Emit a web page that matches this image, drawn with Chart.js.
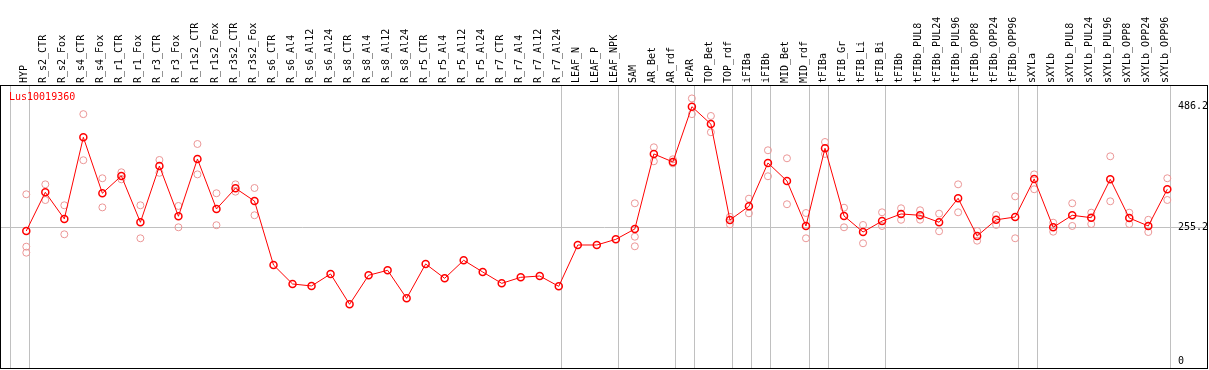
<!DOCTYPE html>
<html>
<head>
<meta charset="utf-8">
<script src="https://cdn.jsdelivr.net/npm/chart.js@4/dist/chart.umd.min.js"></script>
<style>
  body { margin: 0; background: #fff; }
  canvas { display: block; }
</style>
</head>
<body>
<canvas id="expr-chart" width="1209" height="370"></canvas>
<script>
// sample names along the top
const categories = ['HYP', 'R_s2_CTR', 'R_s2_Fox', 'R_s4_CTR', 'R_s4_Fox', 'R_r1_CTR', 'R_r1_Fox',
    'R_r3_CTR', 'R_r3_Fox', 'R_r1s2_CTR', 'R_r1s2_Fox', 'R_r3s2_CTR', 'R_r3s2_Fox',
    'R_s6_CTR', 'R_s6_Al4', 'R_s6_Al12', 'R_s6_Al24', 'R_s8_CTR', 'R_s8_Al4', 'R_s8_Al12', 'R_s8_Al24',
    'R_r5_CTR', 'R_r5_Al4', 'R_r5_Al12', 'R_r5_Al24', 'R_r7_CTR', 'R_r7_Al4', 'R_r7_Al12', 'R_r7_Al24',
    'LEAF_N', 'LEAF_P', 'LEAF_NPK', 'SAM', 'AR_Bet', 'AR_rdf', 'cPAR', 'TOP_Bet', 'TOP_rdf',
    'iFIBa', 'iFIBb', 'MID_Bet', 'MID_rdf', 'tFIBa', 'tFIB_Gr', 'tFIB_Li', 'tFIB_Bi', 'tFIBb',
    'tFIBb_PUL8', 'tFIBb_PUL24', 'tFIBb_PUL96', 'tFIBb_OPP8', 'tFIBb_OPP24', 'tFIBb_OPP96',
    'sXYLa', 'sXYLb', 'sXYLb_PUL8', 'sXYLb_PUL24', 'sXYLb_PUL96', 'sXYLb_OPP8', 'sXYLb_OPP24', 'sXYLb_OPP96'];

// mean expression per sample
const meanValues = [249, 322.8, 272, 427.8, 321, 354, 265.5, 373, 277, 386.4, 291, 330.5, 306,
    184, 147.8, 144, 166.9, 109, 164.4, 173.9, 120.4, 186, 158.6, 193, 170.7, 149, 160.5, 163, 143.3,
    222.2, 222.2, 233, 252.8, 396, 380.7, 486.2, 453, 270, 296, 378.8, 344.4, 258.5, 406.8, 277.6,
    247, 267.8, 281.4, 278.9, 265.6, 311.4, 239.4, 270.3, 275.6, 348.2, 256, 278.9, 274.3, 347.6,
    273.7, 258.5, 328.6];

// replicate values (null = not shown)
const repHigh = [319, 338, 298, 472, 349.6, 361, 298, 384.5, 296.7, 415, 321, 338, 331,
    null, null, null, null, null, null, null, null, null, null, null, null, null, null, null, null,
    null, null, null, 301.8, 408.7, 385.8, 502, 468.5, 276, 310.6, 403, 387.7, 283.3, 418.8, 293.4,
    260.4, 284.6, 292.3, 288.5, 282, 338, 249, 279.5, 315, 357, 264.8, 301.8, 283.9, 391.5,
    283.9, 270.3, 349.6];
const repLow = [219, 308, 242.6, 384, 294, 347.6, 235, 360, 256, 357, 260, 324, 279,
    null, null, null, null, null, null, null, null, null, null, null, null, null, null, null, null,
    null, null, null, 238, 382, 378, 472, 437.4, 261.7, 282.7, 353.4, 300, 235, 396, 256,
    225.5, 258.5, 270.3, 270.5, 248.4, 284.6, 230.4, 260.4, 235, 328.6, 247.6, 258.5, 262.3, 305.6,
    262.3, 247, 308.1];
const repThird = [207.5, null, null, null, null, null, null, null, null, null, null, null, null,
    null, null, null, null, null, null, null, null, null, null, null, null, null, null, null, null,
    null, null, null, 219.7, null, null, null, null, null, null, null, null, null, null, null,
    null, null, null, null, null, null, null, null, null, null, null, null, null, null,
    null, null, null];

// group separators: index of the sample just before each vertical line
const groupBreaks = [-1, 0, 28, 31, 34, 35, 37, 38, 39, 41, 42, 45, 52, 53, 60];
const yTicks = [0, 255.2, 486.2];
const geneName = 'Lus10019360';

const monoFont = { family: 'DejaVu Sans Mono', size: 10 };
const repColor = '#eb9696';

function toPoints(values) {
    return values.map(function (v, i) { return { x: i, y: v }; });
}

// outer frame + gene name
const framePlugin = {
    id: 'frame',
    afterDraw: function (chart) {
        const ca = chart.chartArea;
        const ctx = chart.ctx;
        ctx.save();
        ctx.strokeStyle = '#000';
        ctx.lineWidth = 1;
        ctx.strokeRect(ca.left - 0.5, ca.top + 0.5, ca.right - ca.left, ca.bottom - ca.top - 1);
        ctx.fillStyle = '#ff0000';
        ctx.font = '10px "DejaVu Sans Mono"';
        ctx.textBaseline = 'middle';
        ctx.textAlign = 'left';
        ctx.fillText(geneName, ca.left + 8, ca.top + 12);
        ctx.restore();
    }
};

const xMin = -1.33;
const xMax = 62.14;
// rotated labels are drawn left of their tick, nudge them back over the points
const labelShift = 0.55;

function noSidePadding(scale) {
    scale.paddingLeft = 0;
    scale.paddingRight = 0;
}

function repDataset(label, values) {
    return {
        label: label,
        data: toPoints(values),
        showLine: false,
        pointRadius: 3.5,
        pointBorderWidth: 1,
        pointBorderColor: repColor,
        pointBackgroundColor: 'rgba(0,0,0,0)',
        order: 1
    };
}

const ctx = document.getElementById('expr-chart');
new Chart(ctx, {
    type: 'scatter',
    data: {
        datasets: [
            {
                label: geneName,
                data: toPoints(meanValues),
                showLine: true,
                borderColor: '#ff0000',
                borderWidth: 1,
                pointRadius: 3.5,
                pointBorderWidth: 1.5,
                pointBorderColor: '#ff0000',
                pointBackgroundColor: 'rgba(0,0,0,0)',
                order: 0
            },
            repDataset('rep1', repHigh),
            repDataset('rep2', repLow),
            repDataset('rep3', repThird)
        ]
    },
    options: {
        responsive: false,
        animation: false,
        devicePixelRatio: 1,
        layout: { autoPadding: false, padding: { left: 1, right: 1, top: 0, bottom: 1 } },
        plugins: {
            legend: { display: false },
            tooltip: { enabled: false }
        },
        scales: {
            x: {
                type: 'linear',
                position: 'top',
                min: xMin,
                max: xMax,
                afterBuildTicks: function (scale) {
                    scale.ticks = categories.map(function (c, i) { return { value: i + labelShift }; });
                },
                afterFit: function (scale) {
                    scale.height = 85;
                    noSidePadding(scale);
                },
                grid: { display: false, drawTicks: false },
                border: { display: false },
                ticks: {
                    autoSkip: false,
                    minRotation: 90,
                    maxRotation: 90,
                    padding: 2,
                    color: '#000',
                    font: monoFont,
                    callback: function (value, index) { return categories[index]; }
                }
            },
            x2: {
                type: 'linear',
                position: 'bottom',
                min: xMin,
                max: xMax,
                afterBuildTicks: function (scale) {
                    scale.ticks = groupBreaks.map(function (b) { return { value: b + 0.16 }; });
                },
                afterFit: function (scale) {
                    scale.height = 0;
                    noSidePadding(scale);
                },
                ticks: { display: false },
                grid: { color: '#c0c0c0', lineWidth: 1, drawTicks: false },
                border: { display: false }
            },
            y: {
                position: 'right',
                min: -14.5,
                max: 527.6,
                afterBuildTicks: function (scale) {
                    scale.ticks = yTicks.map(function (v) { return { value: v }; });
                },
                afterFit: function (scale) {
                    scale.width = 0;
                    scale.paddingTop = 0;
                    scale.paddingBottom = 0;
                },
                grid: {
                    drawTicks: false,
                    color: function (c) {
                        return c.tick && c.tick.value === 255.2 ? '#c0c0c0' : 'rgba(0,0,0,0)';
                    }
                },
                border: { display: false },
                ticks: {
                    mirror: true,
                    crossAlign: 'far',
                    padding: 0,
                    color: '#000',
                    font: monoFont,
                    callback: function (v) { return v === 0 ? '0' : v.toFixed(1); }
                }
            }
        }
    },
    plugins: [framePlugin]
});
</script>
</body>
</html>
